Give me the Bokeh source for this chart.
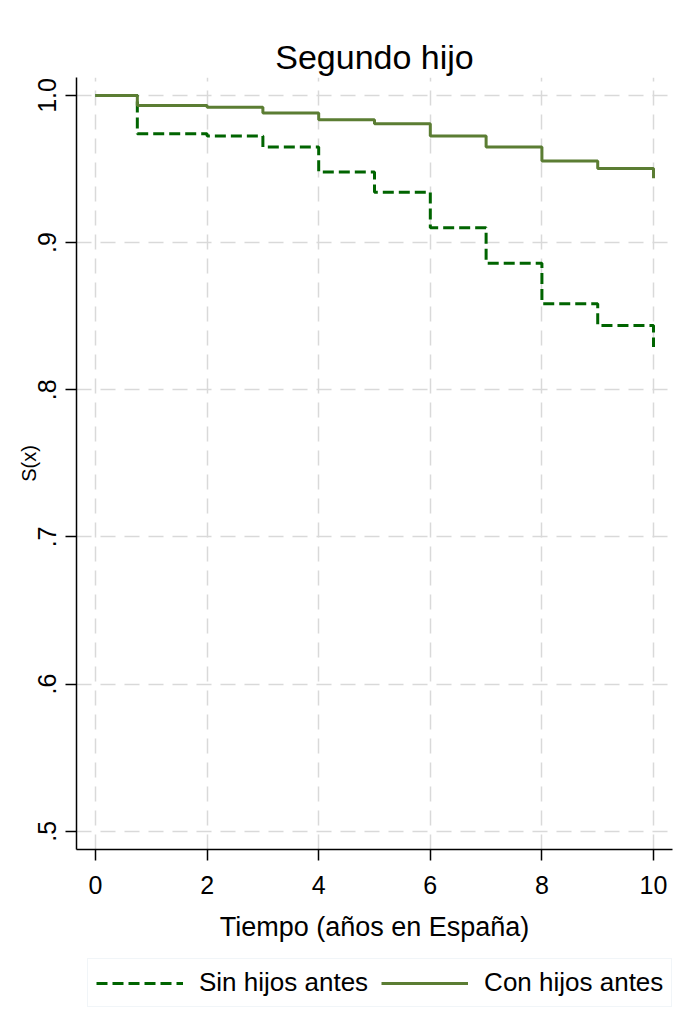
from bokeh.plotting import figure
from bokeh.layouts import column
from bokeh.models import Legend, LegendItem, FixedTicker, Range1d
from bokeh.embed import file_html
from bokeh.resources import INLINE

# Data (Kaplan-Meier style survival)
times = [0, 0.75, 2, 3, 4, 5, 6, 7, 8, 9, 10]
sin_hijos = [1.0, 0.974, 0.9724, 0.9649, 0.9479, 0.9343, 0.9101, 0.886, 0.8585, 0.8437, 0.829]
con_hijos = [1.0, 0.9932, 0.992, 0.988, 0.9835, 0.9808, 0.9724, 0.9649, 0.9554, 0.9504, 0.9438]
x_ticks = [0, 2, 4, 6, 8, 10]
y_ticks = [0.5, 0.6, 0.7, 0.8, 0.9, 1.0]
y_tick_labels = [".5", ".6", ".7", ".8", ".9", "1.0"]
series_names = ["Sin hijos antes", "Con hijos antes"]

FONT = "Liberation Sans"
DASH_COLOR = "#006400"
SOLID_COLOR = "#5b7d33"
DASH = "11 5"

p = figure(width=680, height=955, output_backend="svg", toolbar_location=None,
           x_range=Range1d(-0.34, 10.34), y_range=Range1d(0.4876, 1.0122),
           min_border_left=76, min_border_right=8, min_border_top=77, min_border_bottom=106)

p.title.text = "Segundo hijo"
p.title.align = "center"
p.title.text_font = FONT
p.title.text_font_size = "34px"
p.title.text_font_style = "normal"
p.title.text_color = "black"
p.title.standoff = 4

p.outline_line_color = None
p.background_fill_color = "white"
p.border_fill_color = "white"

# grids
p.xgrid.ticker = FixedTicker(ticks=x_ticks)
p.ygrid.ticker = FixedTicker(ticks=y_ticks)
for g in (p.xgrid, p.ygrid):
    g.grid_line_color = "#d9d9d9"
    g.grid_line_width = 1.5
    g.grid_line_dash = "15 9"

# axes
p.xaxis.ticker = FixedTicker(ticks=x_ticks)
p.yaxis.ticker = FixedTicker(ticks=y_ticks)
p.yaxis.major_label_overrides = {t: l for t, l in zip(y_ticks, y_tick_labels)}
p.yaxis.major_label_orientation = "vertical"
for ax in (p.xaxis[0], p.yaxis[0]):
    ax.axis_line_color = "black"
    ax.axis_line_width = 1.5
    ax.major_tick_line_color = "black"
    ax.major_tick_line_width = 1.5
    ax.major_tick_out = 11
    ax.major_tick_in = 0
    ax.minor_tick_line_color = None
    ax.major_label_text_font = FONT
    ax.major_label_text_font_size = "25px"
    ax.major_label_text_color = "black"
    ax.axis_label_text_font = FONT
    ax.axis_label_text_font_style = "normal"
    ax.axis_label_text_color = "black"

p.xaxis.axis_label = "Tiempo (años en España)"
p.xaxis.axis_label_text_font_size = "27px"
p.xaxis.major_label_standoff = 15
p.xaxis.axis_label_standoff = 15
p.yaxis.axis_label = "S(x)"
p.yaxis.axis_label_text_font_size = "20px"
p.yaxis.major_label_standoff = 9
p.yaxis.axis_label_standoff = -4

p.step(times, sin_hijos, mode="after", line_color=DASH_COLOR, line_width=3, line_dash=DASH)
p.step(times, con_hijos, mode="after", line_color=SOLID_COLOR, line_width=3)

# legend strip below the plot (its renderers draw the same series, outside its visible range)
pl = figure(width=680, height=55, output_backend="svg", toolbar_location=None,
            x_range=Range1d(100, 101), y_range=Range1d(100, 101),
            min_border_left=76, min_border_right=8, min_border_top=0, min_border_bottom=0)
pl.axis.visible = False
pl.grid.visible = False
pl.outline_line_color = None
pl.background_fill_color = "white"
pl.border_fill_color = "white"
k_sin = pl.step(times, sin_hijos, mode="after", line_color=DASH_COLOR, line_width=3, line_dash=DASH)
k_con = pl.step(times, con_hijos, mode="after", line_color=SOLID_COLOR, line_width=3)

legend = Legend(items=[LegendItem(label=series_names[0], renderers=[k_sin]),
                       LegendItem(label=series_names[1], renderers=[k_con])],
                orientation="horizontal", location=(11, 3), margin=0,
                padding=8, spacing=13, glyph_width=87, label_standoff=16,
                label_text_font=FONT, label_text_font_size="26px", label_text_color="black",
                border_line_color="#e3ebf1", border_line_width=1.5,
                background_fill_color="white", background_fill_alpha=1.0)
pl.add_layout(legend, "center")

layout = column(p, pl, spacing=0)
open("out.html", "w").write(file_html(layout, INLINE))
